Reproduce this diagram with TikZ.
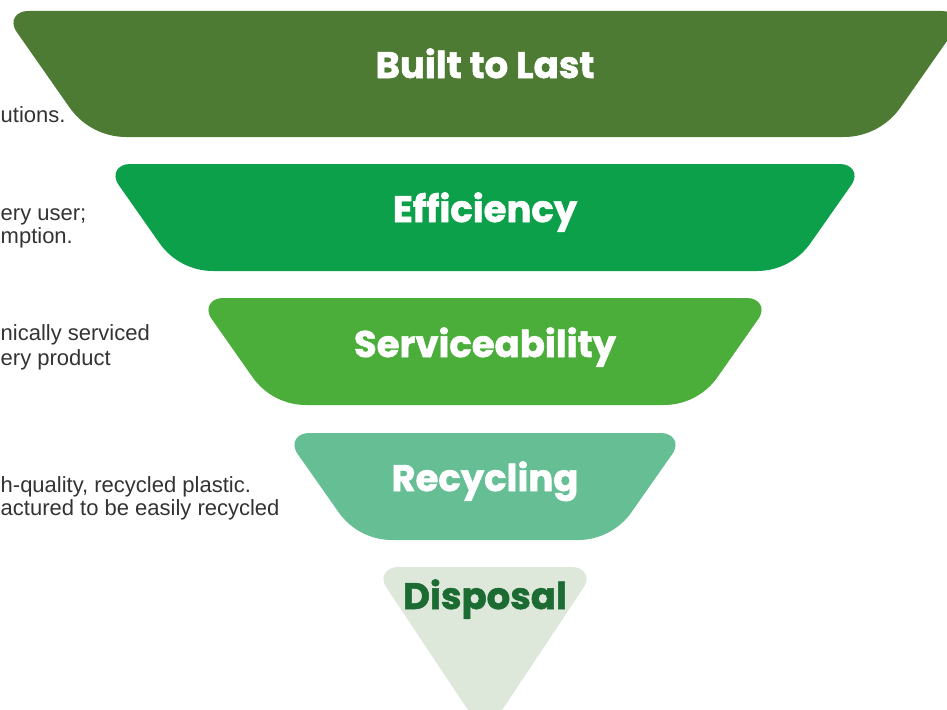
\documentclass[tikz,border=0pt]{standalone}
\usepackage{fontspec}
\setmainfont{Liberation Sans}
\newfontfamily\titlefont{Poppins}[BoldFeatures={FakeBold=1.5}]
\definecolor{bandA}{HTML}{4D7B34}
\definecolor{bandB}{HTML}{0DA04A}
\definecolor{bandC}{HTML}{4BAE3B}
\definecolor{bandD}{HTML}{66BE95}
\definecolor{bandE}{HTML}{DDE8DB}
\definecolor{dispText}{HTML}{1C6B32}
\definecolor{bodyText}{HTML}{333333}
% #1 colour, #2 ytop, #3 ybot, #4 half top, #5 half bottom, #6 top rounding, #7 bottom rounding
% top corners: control factor 0.576, bottom corners: 0.375 (circular arcs)
\newcommand{\funnelband}[7]{%
  \fill[#1]
    ({485-#4+#6},#2) -- ({485+#4-#6},#2)
    .. controls ({485+#4-0.576*#6},#2) and ({485+#4-0.5735*#6*0.424},{#2+0.8192*#6*0.424}) .. ({485+#4-0.5735*#6},{#2+0.8192*#6})
    -- ({485+#5+0.5735*#7},{#3-0.8192*#7})
    .. controls ({485+#5+0.5735*#7*0.375},{#3-0.8192*#7*0.375}) and ({485+#5-#7*0.375},#3) .. ({485+#5-#7},#3)
    -- ({485-#5+#7},#3)
    .. controls ({485-#5+#7*0.375},#3) and ({485-#5-0.5735*#7*0.375},{#3-0.8192*#7*0.375}) .. ({485-#5-0.5735*#7},{#3-0.8192*#7})
    -- ({485-#4+0.5735*#6},{#2+0.8192*#6})
    .. controls ({485-#4+0.5735*#6*0.424},{#2+0.8192*#6*0.424}) and ({485-#4+0.576*#6},#2) .. ({485-#4+#6},#2) -- cycle;}
\tikzset{
  title/.style={text=white, font=\titlefont\bfseries\fontsize{37}{40}\selectfont, inner sep=0pt, anchor=base},
  body/.style={text=bodyText, font=\fontsize{22}{24}\selectfont, inner sep=0pt, anchor=base west},
}
\begin{document}
\begin{tikzpicture}[x=1pt,y=-1pt]
\useasboundingbox (0,0) rectangle (947,709);
\clip (0,0) rectangle (947,709);
\funnelband{bandA}{11}{137}{483}{394.8}{26}{36}
\funnelband{bandB}{164}{271}{381}{306}{26}{34}
\funnelband{bandC}{298}{405}{288}{213}{26}{34}
\funnelband{bandD}{433}{540}{202}{127}{26}{34}
\fill[bandE] ({485-113+26},567) -- ({485+113-26},567)
  .. controls ({485+113-0.576*26},567) and ({485+113-0.5735*26*0.424},{567+0.8192*26*0.424}) .. ({485+113-0.5735*26},{567+0.8192*26})
  -- (485,{567+113/0.67})
  -- ({485-113+0.5735*26},{567+0.8192*26})
  .. controls ({485-113+0.5735*26*0.424},{567+0.8192*26*0.424}) and ({485-113+0.576*26},567) .. ({485-113+26},567) -- cycle;
\node[title] (t1) at (485,78) {Built to Last};
\node[title] (t2) at (485,222) {Efficiency};
\node[title] (t3) at (485,357) {Serviceability};
\node[title] (t4) at (485,491) {Recycling};
\node[title, text=dispText] (t5) at (485,609) {Disposal};
\node[body] (d1) at (0.5,122) {utions.};
\node[body] (d2) at (0.5,220) {ery user;};
\node[body] (d3) at (0.5,243) {mption.};
\node[body] (d4) at (0.5,340) {nically serviced};
\node[body] (d5) at (0.5,365) {ery product};
\node[body] (d6) at (0.5,492) {h-quality, recycled plastic.};
\node[body] (d7) at (0.5,515) {actured to be easily recycled};
\end{tikzpicture}
\end{document}
